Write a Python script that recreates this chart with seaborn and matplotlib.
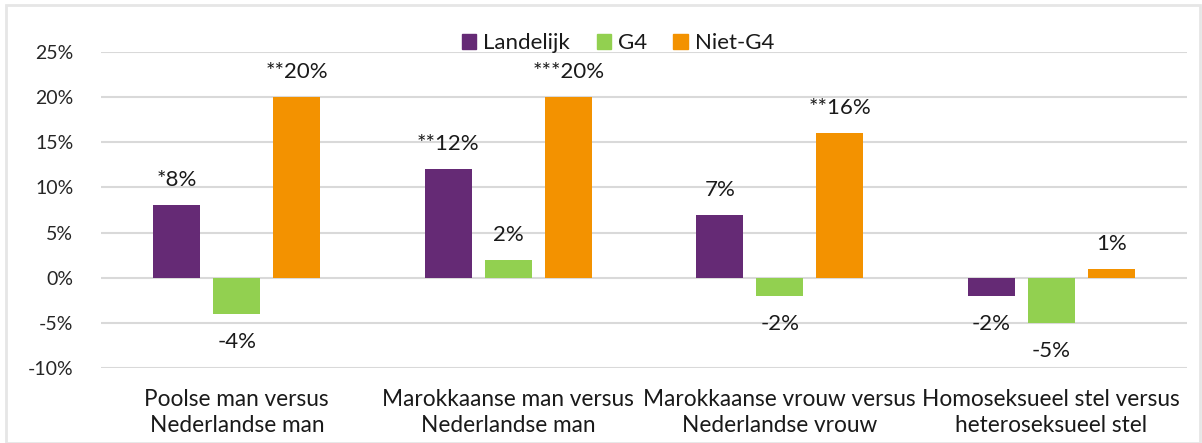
import matplotlib
matplotlib.use("Agg")
import matplotlib.pyplot as plt
import seaborn as sns
import pandas as pd
from matplotlib.patches import Rectangle

categories = ["Poolse man versus\nNederlandse man",
              "Marokkaanse man versus\nNederlandse man",
              "Marokkaanse vrouw versus\nNederlandse vrouw",
              "Homoseksueel stel versus\nheteroseksueel stel"]
series = ["Landelijk", "G4", "Niet-G4"]
landelijk = [8, 12, 7, -2]
g4 = [-4, 2, -2, -5]
niet_g4 = [20, 20, 16, 1]
landelijk_lbl = ["*8%", "**12%", "7%", "-2%"]
g4_lbl = ["-4%", "2%", "-2%", "-5%"]
niet_g4_lbl = ["**20%", "***20%", "**16%", "1%"]
yticks = [-10, -5, 0, 5, 10, 15, 20, 25]
colors = ["#652A75", "#92D050", "#F39200"]

sns.set_theme(style="white")
plt.rcParams['font.family'] = ['Lato', 'DejaVu Sans']

rows = []
for s, vals, lbls in zip(series, [landelijk, g4, niet_g4], [landelijk_lbl, g4_lbl, niet_g4_lbl]):
    for c, v, l in zip(categories, vals, lbls):
        rows.append({"cat": c, "serie": s, "val": v, "lbl": l})
df = pd.DataFrame(rows)

fig = plt.figure(figsize=(12.02, 4.43), dpi=100)
ax = fig.add_axes([101/1202, 1-368/443, (1187-101)/1202, (368-52)/443])
sns.barplot(data=df, x="cat", y="val", hue="serie", hue_order=series,
            order=categories, palette=colors, width=0.663, gap=0.217,
            saturation=1, ax=ax, legend=False, errorbar=None, linewidth=0)

ax.set_ylim(-10, 25)
ax.set_xlim(-0.5, 3.5)
ax.set_yticks(yticks)
ax.set_yticklabels([f"{t}%" for t in yticks], fontsize=14, color="#262626")
ax.set_axisbelow(True)
ax.yaxis.grid(True, color="#D9D9D9", linewidth=1.5)
for sp in ax.spines.values():
    sp.set_visible(False)
ax.tick_params(axis="both", length=0)
ax.tick_params(axis="y", pad=20)
ax.tick_params(axis="x", pad=15)
ax.set_xlabel("")
ax.set_ylabel("")
for t in ax.get_xticklabels():
    t.set_fontsize(16.3)
    t.set_color("#1A1A1A")
    t.set_linespacing(1.3)

for container, s in zip(ax.containers, series):
    sub = df[df.serie == s].set_index("cat").loc[categories]
    for bar, v, l in zip(container, sub.val, sub.lbl):
        x = bar.get_x() + bar.get_width() / 2
        off = 18 if v >= 0 else -20
        ax.annotate(l, (x, v), xytext=(0, off), textcoords="offset points",
                    ha="center", va="center", fontsize=16, color="#1A1A1A")

handles = [Rectangle((0, 0), 1, 1, color=c) for c in colors]
fig.legend(handles, series, loc="center", bbox_to_anchor=(618/1202, 1-43/443),
           ncol=3, frameon=False, fontsize=16, handlelength=0.65, handleheight=0.65,
           handletextpad=0.3, columnspacing=1.2, labelcolor="#1A1A1A")

fig.patches.append(Rectangle((6/1202, 0), 1194/1202, 1-5/443, transform=fig.transFigure,
                             fill=False, edgecolor="#E6E6E6", linewidth=2))

fig.savefig("out.png", dpi=100)
